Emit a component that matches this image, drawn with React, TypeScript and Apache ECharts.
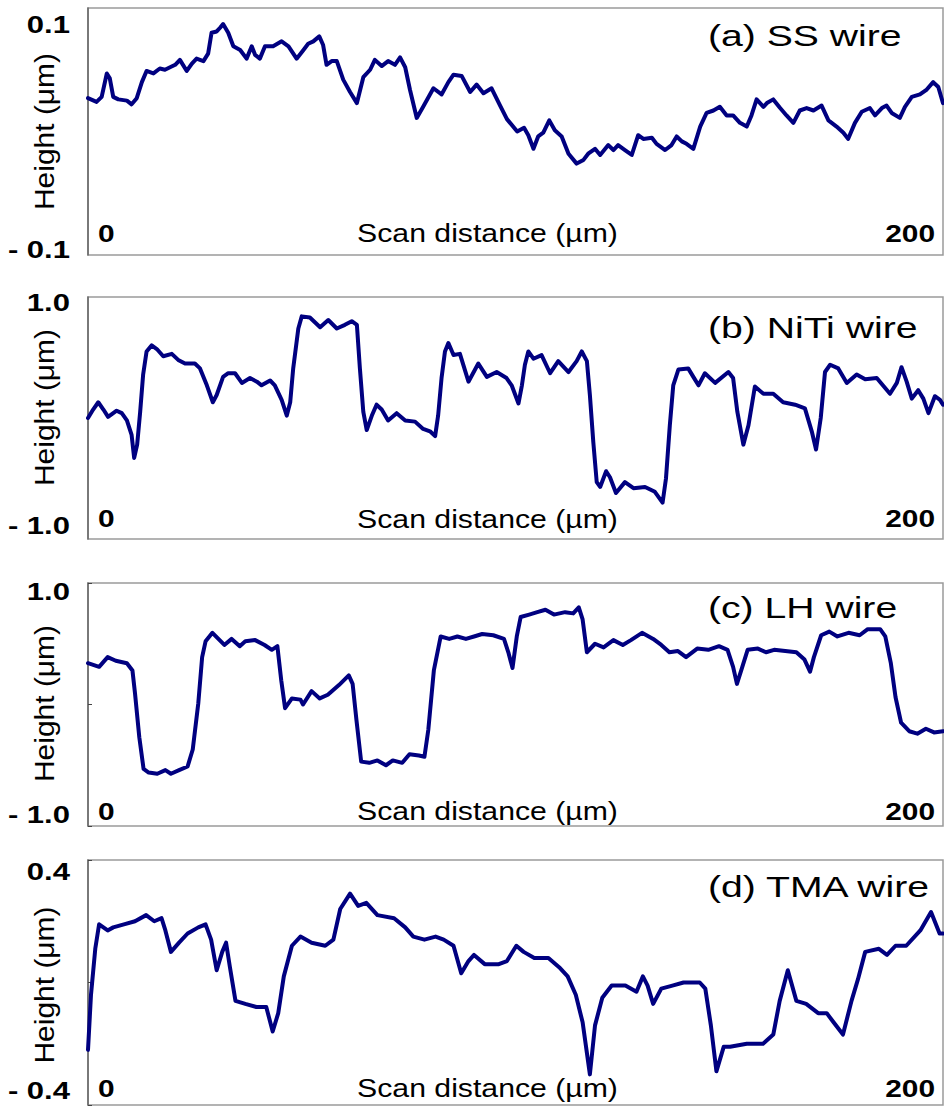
import React, { useEffect, useRef } from "react";
import * as echarts from "echarts";

// ---------------- data (scan distance in µm, height in µm) ----------------
const ssScan: [number, number][] = [
  [0, 0.027], [2.0, 0.024], [3.2, 0.028], [4.4, 0.047], [5.1, 0.043], [5.9, 0.028], [7.1, 0.026], [9.1, 0.025],
  [10.2, 0.022], [11.4, 0.027], [12.6, 0.04], [13.7, 0.049], [15.3, 0.047], [16.8, 0.051], [18.0, 0.05], [19.2, 0.052],
  [20.4, 0.054], [21.5, 0.058], [23.1, 0.049], [24.3, 0.055], [25.4, 0.059], [27.0, 0.057], [28.1, 0.063], [28.9, 0.08],
  [30.1, 0.081], [30.9, 0.084], [31.6, 0.087], [32.8, 0.08], [34.0, 0.069], [35.6, 0.066], [37.1, 0.059], [38.3, 0.069],
  [39.1, 0.062], [40.2, 0.059], [41.4, 0.069], [43.3, 0.069], [45.3, 0.073], [46.9, 0.069], [48.8, 0.059], [50.4, 0.066],
  [51.5, 0.071], [52.7, 0.073], [54.1, 0.077], [55.0, 0.07], [55.8, 0.054], [57.0, 0.057], [58.2, 0.057], [59.7, 0.042],
  [61.3, 0.032], [62.9, 0.023], [64.4, 0.044], [66.0, 0.05], [67.1, 0.058], [68.7, 0.053], [70.2, 0.057], [71.8, 0.054],
  [73.0, 0.06], [74.2, 0.052], [75.3, 0.034], [76.9, 0.011], [78.4, 0.02], [80.8, 0.035], [82.7, 0.03], [84.3, 0.04],
  [85.5, 0.046], [87.4, 0.045], [89.4, 0.032], [90.9, 0.038], [92.5, 0.031], [94.4, 0.035], [96.4, 0.021], [98.0, 0.01],
  [100.4, 0.0], [102.0, 0.003], [103.0, -0.003], [104.2, -0.014], [105.3, -0.004], [106.5, -0.001], [107.9, 0.009],
  [109.2, 0.001], [110.8, -0.004], [112.4, -0.018], [114.3, -0.026], [115.9, -0.023], [117.0, -0.018], [118.6, -0.014],
  [119.8, -0.019], [121.7, -0.011], [122.9, -0.015], [124.0, -0.011], [125.6, -0.015], [127.2, -0.019], [128.7, -0.003],
  [129.9, -0.006], [131.9, -0.005], [133.0, -0.01], [135.0, -0.015], [136.5, -0.011], [137.7, -0.004], [138.9, -0.008],
  [140.0, -0.01], [141.6, -0.014], [143.2, 0.004], [144.7, 0.015], [146.3, 0.017], [147.8, 0.02], [149.4, 0.013],
  [150.9, 0.013], [152.5, 0.007], [154.1, 0.004], [155.2, 0.013], [156.4, 0.026], [158.0, 0.02], [158.8, 0.023],
  [160.3, 0.026], [161.9, 0.019], [163.4, 0.013], [165.0, 0.007], [166.5, 0.017], [168.1, 0.019], [169.7, 0.017],
  [171.6, 0.021], [173.2, 0.009], [175.1, 0.004], [176.7, -0.001], [177.8, -0.006], [179.4, 0.007], [181.0, 0.016],
  [182.9, 0.019], [184.1, 0.013], [185.7, 0.019], [186.8, 0.021], [188.0, 0.015], [189.9, 0.011], [191.1, 0.02],
  [192.7, 0.028], [194.6, 0.03], [196.2, 0.034], [197.7, 0.04], [198.9, 0.036], [200, 0.023],
];

const nitiScan: [number, number][] = [
  [0, 0.0], [1.2, 0.07], [2.4, 0.13], [3.6, 0.07], [4.7, 0.01], [6.7, 0.06], [7.9, 0.04], [9.1, -0.02], [10.2, -0.14],
  [10.8, -0.33], [11.5, -0.22], [12.2, 0.05], [12.9, 0.36], [13.7, 0.55], [14.9, 0.6], [16.1, 0.57], [17.6, 0.51],
  [19.6, 0.53], [21.1, 0.48], [22.7, 0.45], [25.0, 0.45], [26.2, 0.41], [27.8, 0.27], [29.2, 0.13], [30.1, 0.19],
  [31.6, 0.34], [32.8, 0.37], [34.4, 0.37], [36.0, 0.29], [37.9, 0.33], [39.5, 0.3], [40.6, 0.27], [42.6, 0.31],
  [43.7, 0.27], [45.3, 0.15], [46.5, 0.02], [47.3, 0.13], [48.0, 0.41], [49.2, 0.74], [50.0, 0.84], [51.9, 0.83],
  [54.3, 0.75], [56.2, 0.81], [58.2, 0.74], [60.1, 0.77], [61.7, 0.8], [62.9, 0.77], [63.6, 0.41], [64.4, 0.05],
  [65.2, -0.1], [66.4, 0.02], [67.5, 0.11], [68.7, 0.07], [70.2, -0.02], [72.2, 0.04], [74.2, -0.02], [76.5, -0.03],
  [78.4, -0.09], [80.0, -0.11], [81.2, -0.15], [81.9, 0.02], [82.7, 0.33], [83.5, 0.55], [84.3, 0.62], [85.5, 0.52],
  [87.0, 0.53], [89.0, 0.3], [91.3, 0.45], [93.3, 0.34], [95.6, 0.38], [97.9, 0.33], [99.1, 0.27], [100.7, 0.12],
  [101.5, 0.27], [102.2, 0.44], [103.0, 0.55], [104.2, 0.49], [106.1, 0.52], [108.1, 0.37], [110.0, 0.47],
  [112.4, 0.38], [114.3, 0.47], [115.5, 0.55], [116.7, 0.47], [117.4, 0.19], [118.2, -0.2], [119.0, -0.53],
  [119.8, -0.57], [121.2, -0.44], [122.1, -0.49], [123.5, -0.62], [125.6, -0.53], [127.6, -0.58], [130.3, -0.57],
  [132.6, -0.61], [134.4, -0.7], [135.2, -0.5], [136.1, -0.06], [136.9, 0.27], [138.1, 0.4], [140.4, 0.41],
  [141.6, 0.34], [142.8, 0.27], [144.3, 0.37], [146.7, 0.29], [149.8, 0.38], [150.9, 0.33], [151.9, 0.05],
  [153.3, -0.22], [154.5, -0.06], [156.0, 0.26], [158.0, 0.2], [160.3, 0.2], [162.6, 0.13], [165.4, 0.11],
  [167.7, 0.08], [169.3, -0.11], [170.3, -0.26], [171.4, 0.0], [172.4, 0.38], [173.6, 0.44], [175.5, 0.41],
  [177.5, 0.29], [179.8, 0.36], [181.8, 0.32], [184.5, 0.33], [187.6, 0.2], [189.2, 0.29], [190.3, 0.42],
  [191.5, 0.3], [192.7, 0.16], [194.2, 0.23], [195.4, 0.16], [196.6, 0.04], [198.1, 0.18], [199.3, 0.15], [200, 0.11],
];

const lhScan: [number, number][] = [
  [0, 0.34], [2.6, 0.31], [4.6, 0.39], [6.5, 0.36], [9.1, 0.34], [10.4, 0.28], [11.0, 0.09], [12.0, -0.27],
  [13.0, -0.53], [14.2, -0.56], [16.2, -0.57], [18.1, -0.54], [19.4, -0.57], [21.3, -0.54], [23.3, -0.51],
  [24.5, -0.37], [25.8, 0.01], [26.7, 0.39], [27.5, 0.52], [29.1, 0.59], [31.9, 0.49], [33.6, 0.54], [35.5, 0.48],
  [36.8, 0.52], [39.1, 0.53], [41.3, 0.49], [43.0, 0.45], [44.3, 0.48], [45.2, 0.2], [46.1, -0.03], [47.7, 0.05],
  [49.7, 0.04], [50.3, 0.0], [52.3, 0.11], [54.2, 0.05], [56.1, 0.08], [58.7, 0.16], [61.0, 0.24], [61.9, 0.17],
  [62.8, -0.13], [63.9, -0.47], [65.8, -0.48], [67.7, -0.46], [69.7, -0.5], [71.3, -0.46], [73.5, -0.48],
  [75.2, -0.41], [77.4, -0.42], [78.7, -0.43], [79.6, -0.21], [80.9, 0.28], [82.5, 0.56], [84.5, 0.54], [86.4, 0.56],
  [88.4, 0.54], [90.3, 0.56], [92.2, 0.58], [94.8, 0.57], [97.3, 0.54], [98.4, 0.42], [99.3, 0.3], [100.3, 0.56],
  [101.2, 0.72], [103.2, 0.74], [105.1, 0.76], [107.0, 0.78], [109.0, 0.74], [111.6, 0.76], [113.5, 0.75],
  [114.8, 0.8], [115.7, 0.7], [116.7, 0.43], [118.6, 0.5], [120.6, 0.47], [122.9, 0.53], [125.1, 0.49], [127.0, 0.53],
  [129.6, 0.59], [132.2, 0.54], [134.1, 0.49], [136.0, 0.43], [138.0, 0.44], [139.9, 0.39], [142.5, 0.46],
  [145.1, 0.45], [147.6, 0.48], [149.6, 0.45], [150.9, 0.31], [151.8, 0.17], [152.8, 0.28], [154.3, 0.45],
  [156.7, 0.46], [158.6, 0.43], [160.5, 0.45], [163.1, 0.44], [165.7, 0.43], [167.6, 0.37], [168.9, 0.27],
  [169.8, 0.39], [171.5, 0.57], [173.4, 0.6], [175.3, 0.56], [177.9, 0.59], [180.5, 0.57], [182.4, 0.62],
  [185.3, 0.62], [186.5, 0.56], [187.8, 0.34], [188.9, 0.06], [190.2, -0.15], [192.1, -0.22], [194.0, -0.24],
  [196.0, -0.2], [197.9, -0.23], [200, -0.22],
];

const tmaScan: [number, number][] = [
  [0, -0.22], [0.7, -0.04], [1.7, 0.11], [2.6, 0.19], [4.6, 0.17], [5.9, 0.18], [8.4, 0.19], [11.0, 0.2], [13.6, 0.22],
  [15.5, 0.2], [17.2, 0.21], [18.1, 0.17], [19.4, 0.1], [21.3, 0.13], [23.3, 0.16], [25.8, 0.18], [27.5, 0.19],
  [28.8, 0.14], [30.1, 0.04], [31.4, 0.1], [32.3, 0.13], [33.2, 0.05], [34.5, -0.06], [36.8, -0.07], [39.4, -0.08],
  [41.7, -0.08], [43.2, -0.16], [44.5, -0.1], [45.8, 0.02], [47.7, 0.12], [49.7, 0.15], [52.3, 0.13], [55.5, 0.12],
  [57.4, 0.14], [59.0, 0.24], [61.3, 0.29], [63.2, 0.25], [65.1, 0.26], [67.7, 0.22], [71.6, 0.21], [74.2, 0.18],
  [76.1, 0.15], [78.7, 0.14], [81.3, 0.15], [83.2, 0.14], [85.5, 0.12], [87.3, 0.03], [89.0, 0.07], [90.3, 0.09],
  [92.8, 0.06], [96.1, 0.06], [98.0, 0.07], [100.2, 0.12], [101.9, 0.1], [104.4, 0.08], [107.7, 0.08], [110.2, 0.05],
  [112.2, 0.02], [114.1, -0.04], [115.7, -0.13], [117.4, -0.3], [118.6, -0.14], [120.3, -0.05], [122.5, -0.01],
  [125.7, -0.01], [128.3, -0.03], [129.8, 0.02], [130.9, -0.01], [132.2, -0.07], [134.1, -0.02], [136.7, -0.01],
  [139.3, 0.0], [143.1, 0.0], [144.4, -0.02], [145.7, -0.14], [147.0, -0.29], [148.7, -0.21], [150.2, -0.21],
  [154.1, -0.2], [157.9, -0.2], [160.3, -0.17], [161.8, -0.06], [163.7, 0.04], [165.7, -0.06], [168.0, -0.07],
  [170.8, -0.1], [172.8, -0.1], [174.4, -0.13], [176.6, -0.17], [178.6, -0.06], [180.1, 0.01], [181.8, 0.1],
  [185.0, 0.11], [186.9, 0.09], [188.9, 0.12], [191.4, 0.12], [194.7, 0.17], [197.2, 0.23], [199.2, 0.16], [200, 0.16],
];

const panelTitles = ["(a) SS wire", "(b) NiTi wire", "(c) LH wire", "(d) TMA wire"];
const yRanges: [number, number][] = [[-0.1, 0.1], [-1.0, 1.0], [-1.0, 1.0], [-0.4, 0.4]];
const yTickLabels: [string, string][] = [["0.1", "- 0.1"], ["1.0", "- 1.0"], ["1.0", "- 1.0"], ["0.4", "- 0.4"]];
const xTickLabels = ["0", "200"];
const xRange: [number, number] = [0, 200];
const xAxisTitle = "Scan distance (µm)";
const yAxisTitle = "Height (μm)";
const profiles = [ssScan, nitiScan, lhScan, tmaScan];
const showMidTick = [false, false, true, true];

// ---------------- layout (pixels) ----------------
const PLOT_LEFT = 88;
const PLOT_WIDTH = 855;
const LAYOUT = [
  { top: 8, bottom: 255, yTop: 25, yBot: 250, xRow: 233, title: 36, name: 131.5 },
  { top: 297, bottom: 539, yTop: 303.5, yBot: 526, xRow: 518.5, title: 327.5, name: 407.5 },
  { top: 583, bottom: 826, yTop: 592.5, yBot: 815.5, xRow: 811, title: 608, name: 703.5 },
  { top: 860, bottom: 1105, yTop: 872.5, yBot: 1091, xRow: 1088, title: 887, name: 985 },
];
const FONT = "Liberation Sans, Arial, sans-serif";

function txt(text: string, x: number, y: number, o: any) {
  return {
    type: "text",
    x,
    y,
    scaleX: o.scaleX ?? 1,
    rotation: o.rotation ?? 0,
    silent: true,
    z: 100,
    style: {
      text,
      fontFamily: FONT,
      fontSize: o.size,
      fontWeight: o.weight ?? "normal",
      fill: "#000",
      align: o.align ?? "left",
      verticalAlign: "middle",
    },
  };
}

export default function App() {
  const ref = useRef<HTMLDivElement>(null);

  useEffect(() => {
    if (!ref.current) return;
    const chart = echarts.init(ref.current, undefined, { renderer: "svg" });

    const grid = LAYOUT.map((l) => ({
      left: PLOT_LEFT,
      width: PLOT_WIDTH,
      top: l.top,
      height: l.bottom - l.top,
      show: true,
      borderColor: "#9a9a9a",
      borderWidth: 1.5,
      backgroundColor: "transparent",
    }));

    const xAxis = LAYOUT.map((_, i) => ({
      gridIndex: i,
      type: "value",
      min: xRange[0],
      max: xRange[1],
      axisLine: { show: false },
      axisTick: { show: false },
      axisLabel: { show: false },
      splitLine: { show: false },
    }));

    const yAxis = LAYOUT.map((_, i) => ({
      gridIndex: i,
      type: "value",
      min: yRanges[i][0],
      max: yRanges[i][1],
      interval: yRanges[i][1],
      axisLine: { show: true, lineStyle: { color: "#666", width: 1.5 } },
      axisTick: { show: showMidTick[i], inside: true, length: 4, lineStyle: { color: "#444", width: 1 } },
      axisLabel: { show: false },
      splitLine: { show: false },
    }));

    const series = profiles.map((d, i) => ({
      type: "line",
      xAxisIndex: i,
      yAxisIndex: i,
      data: d,
      showSymbol: false,
      symbol: "none",
      smooth: false,
      lineStyle: { color: "#000080", width: 4, cap: "round", join: "round" },
      emphasis: { disabled: true },
    }));

    const graphic: any[] = [];
    LAYOUT.forEach((l, i) => {
      graphic.push(txt(yTickLabels[i][0], 70, l.yTop, { size: 23, weight: "bold", align: "right", scaleX: 1.35 }));
      graphic.push(txt(yTickLabels[i][1], 70, l.yBot, { size: 23, weight: "bold", align: "right", scaleX: 1.35 }));
      graphic.push(txt(xTickLabels[0], 98, l.xRow, { size: 24.5, weight: "bold", align: "left", scaleX: 1.22 }));
      graphic.push(txt(xTickLabels[1], 935, l.xRow, { size: 24.5, weight: "bold", align: "right", scaleX: 1.22 }));
      graphic.push(txt(xAxisTitle, 487.5, l.xRow, { size: 26.5, align: "center", scaleX: 1.14 }));
      graphic.push(txt(panelTitles[i], 708, l.title, { size: 29, align: "left", scaleX: 1.35 }));
      graphic.push(txt(yAxisTitle, 44, l.name, { size: 28, align: "center", rotation: Math.PI / 2, scaleX: 1.07 }));
    });

    chart.setOption({
      animation: false,
      backgroundColor: "#fff",
      grid,
      xAxis,
      yAxis,
      series,
      graphic,
    });

    return () => chart.dispose();
  }, []);

  return (
    <div
      ref={ref}
      style={{ position: "absolute", left: 0, top: 0, width: 944, height: 1106, background: "#fff" }}
    />
  );
}
